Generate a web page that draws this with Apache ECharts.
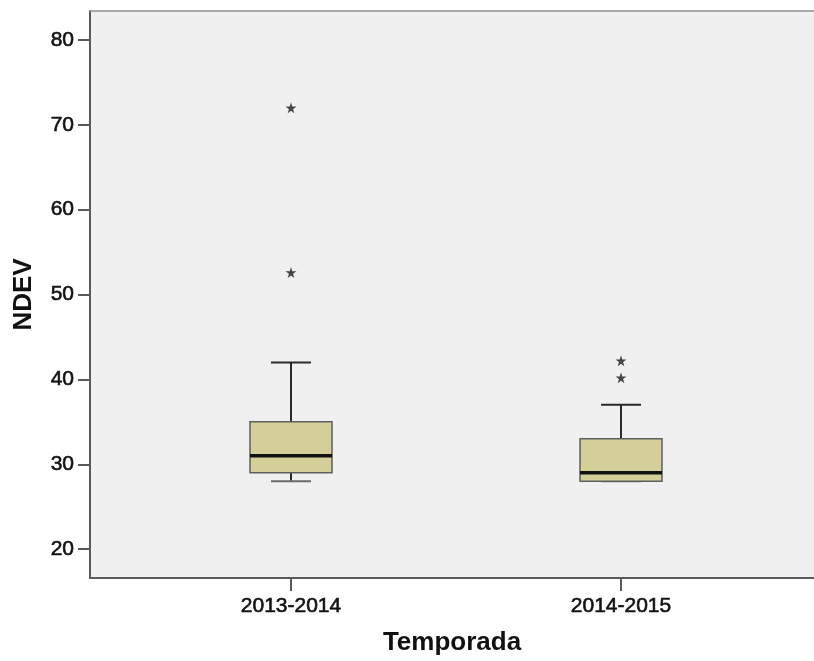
<!DOCTYPE html>
<html>
<head>
<meta charset="utf-8">
<script src="https://cdn.jsdelivr.net/npm/echarts@6/dist/echarts.min.js"></script>
<style>html,body{margin:0;padding:0;background:#fff}#c{width:814px;height:661px}</style>
</head>
<body>
<div id="c"></div>
<script>
const categories = ['2013-2014', '2014-2015'];
const categoryPos = [1, 2];
const lowWhisker = [28, 28];
const q1 = [29, 28];
const median = [31, 29];
const q3 = [35, 33];
const highWhisker = [42, 37];
const outlierPos = [1, 1, 2, 2];
const outlierVal = [72, 52.6, 42.2, 40.2];
const yTicks = [20, 30, 40, 50, 60, 70, 80];

const boxData = categoryPos.map((p, i) => [p, lowWhisker[i], q1[i], median[i], q3[i], highWhisker[i]]);
const outData = outlierPos.map((p, i) => [p, outlierVal[i]]);

const chart = echarts.init(document.getElementById('c'));
const textColor = '#111111';
const axisColor = '#5a5a5a';
const star = 'path://M50,0 L61,35 L98,35 L68,57 L79,91 L50,70 L21,91 L32,57 L2,35 L39,35 Z';

chart.setOption({
  animation: false,
  backgroundColor: '#ffffff',
  grid: {
    left: 90, right: 0, top: 11, bottom: 83,
    show: true, backgroundColor: '#f0f0f0', borderWidth: 0
  },
  xAxis: [{
    type: 'value', min: 0.3909, max: 2.5848,
    name: 'Temporada', nameLocation: 'middle', nameGap: 52,
    nameTextStyle: { fontFamily: 'Liberation Sans, Arial', fontSize: 26, fontWeight: 'bold', color: textColor },
    splitLine: { show: false },
    axisLine: { show: true, lineStyle: { color: axisColor, width: 2 } },
    axisTick: { show: true, customValues: categoryPos, length: 13, lineStyle: { color: axisColor, width: 2 } },
    axisLabel: {
      customValues: categoryPos, margin: 18,
      fontFamily: 'Liberation Sans, Arial', fontSize: 21, color: textColor,
      textBorderColor: textColor, textBorderWidth: 0.6,
      formatter: v => categories[Math.round(v) - 1] || ''
    }
  }, {
    type: 'value', position: 'top', min: 0, max: 1,
    splitLine: { show: false },
    axisLine: { show: true, lineStyle: { color: '#8c8c8c', width: 1.5 } },
    axisTick: { show: false },
    axisLabel: { show: false }
  }],
  yAxis: {
    type: 'value', min: 16.6, max: 83.4,
    name: 'NDEV', nameLocation: 'middle', nameGap: 53, nameRotate: 90,
    nameTextStyle: { fontFamily: 'Liberation Sans, Arial', fontSize: 26, fontWeight: 'bold', color: textColor },
    splitLine: { show: false },
    axisLine: { show: true, lineStyle: { color: axisColor, width: 2 } },
    axisTick: { show: true, customValues: yTicks, length: 12, lineStyle: { color: axisColor, width: 2 } },
    axisLabel: {
      customValues: yTicks, margin: 16,
      fontFamily: 'Liberation Sans, Arial', fontSize: 21, color: textColor,
      textBorderColor: textColor, textBorderWidth: 0.6
    }
  },
  series: [
    {
      type: 'custom',
      xAxisIndex: 0,
      data: boxData,
      encode: { x: 0, y: [1, 2, 3, 4, 5] },
      renderItem: function (params, api) {
        const x = api.value(0);
        const pLow = api.coord([x, api.value(1)]);
        const pQ1 = api.coord([x, api.value(2)]);
        const pMed = api.coord([x, api.value(3)]);
        const pQ3 = api.coord([x, api.value(4)]);
        const pHigh = api.coord([x, api.value(5)]);
        const cx = pQ1[0];
        const hw = 41, cw = 20;
        const lineS = { stroke: '#2a2a2a', lineWidth: 2 };
        return {
          type: 'group',
          children: [
            { type: 'line', shape: { x1: cx, y1: pQ3[1], x2: cx, y2: pHigh[1] }, style: lineS },
            { type: 'line', shape: { x1: cx, y1: pQ1[1], x2: cx, y2: pLow[1] }, style: lineS },
            { type: 'line', shape: { x1: cx - cw, y1: pHigh[1], x2: cx + cw, y2: pHigh[1] }, style: lineS },
            { type: 'line', shape: { x1: cx - cw, y1: pLow[1], x2: cx + cw, y2: pLow[1] }, style: { stroke: '#6a6a6a', lineWidth: 2 } },
            { type: 'rect', shape: { x: cx - hw, y: pQ3[1], width: hw * 2, height: pQ1[1] - pQ3[1] },
              style: { fill: '#d4cf98', stroke: '#5e5e5e', lineWidth: 1.5 } },
            { type: 'line', shape: { x1: cx - hw, y1: pMed[1], x2: cx + hw, y2: pMed[1] }, style: { stroke: '#111', lineWidth: 3.5 } }
          ]
        };
      },
      z: 3
    },
    {
      type: 'scatter',
      xAxisIndex: 0,
      data: outData,
      symbol: star,
      symbolSize: 11,
      itemStyle: { color: '#1a1a1a' },
      z: 4
    }
  ]
});
</script>
</body>
</html>
